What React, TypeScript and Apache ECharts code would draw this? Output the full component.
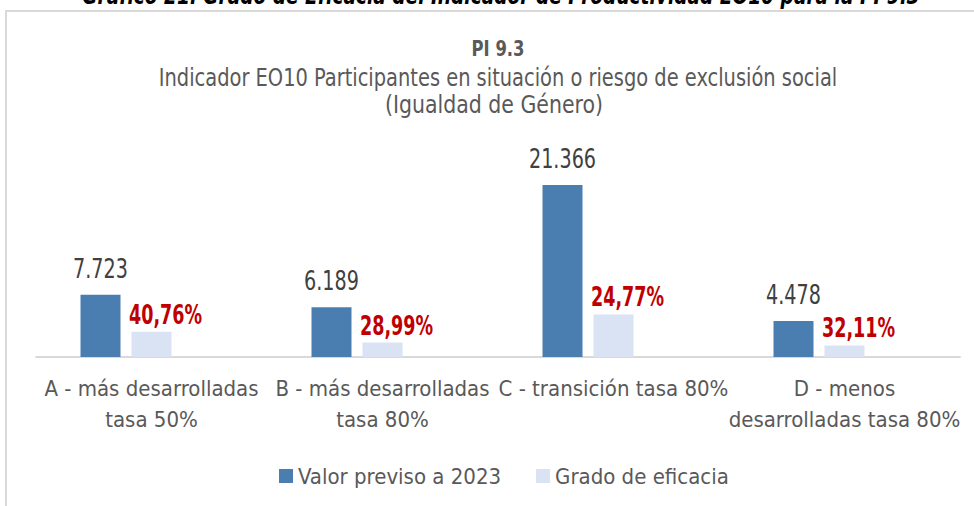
import React, { useEffect, useRef } from "react";
import * as echarts from "echarts";

const categories = [
  "A - más desarrolladas\ntasa 50%",
  "B - más desarrolladas\ntasa 80%",
  "C - transición tasa 80%",
  "D - menos\ndesarrolladas tasa 80%",
];
const valorPrevisto = [7723, 6189, 21366, 4478];
const valorEjecutado = [3148, 1794, 5292, 1438];
const gradoEficacia = ["40,76%", "28,99%", "24,77%", "32,11%"];
const hiddenSeries = [0, 0, 0, 0];

const FONT = "'DejaVu Sans Condensed', 'DejaVu Sans', sans-serif";

function fmtThousands(v: number): string {
  return String(v).replace(/\B(?=(\d{3})+(?!\d))/g, ".");
}

const BAR_W = 40;
const BAR_STEP = 51;

export default function App() {
  const ref = useRef<HTMLDivElement>(null);
  useEffect(() => {
    if (!ref.current) return;
    const chart = echarts.init(ref.current, null, { renderer: "svg" });
    const titleText = (text: string, x: number, y: number, size: number, sx: number, bold: boolean) => ({
      type: "text",
      x,
      y,
      scaleX: sx,
      silent: true,
      style: {
        text,
        fontFamily: FONT,
        fontSize: size,
        fontWeight: bold ? "bold" : "normal",
        fill: "#595959",
        align: "center",
        verticalAlign: "middle",
      },
    });
    chart.setOption({
      animation: false,
      backgroundColor: "#ffffff",
      textStyle: { fontFamily: FONT },
      graphic: [
        {
          type: "rect",
          shape: { x: 6, y: 11, width: 1100, height: 700 },
          style: { fill: "none", stroke: "#d9d9d9", lineWidth: 2 },
          silent: true,
        },
        {
          type: "text",
          x: 501,
          y: 7,
          scaleX: 0.86,
          silent: true,
          style: {
            text: "Gráfico 21. Grado de Eficacia del Indicador de Productividad EO10 para la PI 9.3",
            fontFamily: FONT,
            fontSize: 24,
            fontWeight: "bold",
            fontStyle: "italic",
            fill: "#000000",
            align: "center",
            verticalAlign: "bottom",
          },
        },
        titleText("PI 9.3", 498, 48, 22, 0.83, true),
        titleText("Indicador EO10 Participantes en situación o riesgo de exclusión social", 498, 78, 24, 0.9, false),
        titleText("(Igualdad de Género)", 494, 105, 24, 0.95, false),
      ],
      legend: {
        data: ["Valor previso a 2023", "Grado de eficacia"],
        top: 460,
        left: 274,
        itemWidth: 14,
        itemHeight: 14,
        itemGap: 35,
        icon: "rect",
        textStyle: { fontFamily: FONT, fontSize: 22, color: "#595959" },
      },
      grid: { left: 36, right: 14, top: 155.8, bottom: 149, containLabel: false },
      xAxis: {
        type: "category",
        data: categories,
        axisLine: { show: true, lineStyle: { color: "#d9d9d9", width: 2 } },
        axisTick: { show: false },
        axisLabel: {
          interval: 0,
          margin: 16,
          fontFamily: FONT,
          fontSize: 22,
          lineHeight: 31,
          color: "#595959",
          align: "center",
        },
      },
      yAxis: {
        type: "value",
        min: 0,
        max: 25000,
        show: false,
        splitLine: { show: false },
      },
      series: [
        {
          name: "Valor previso a 2023",
          type: "bar",
          data: valorPrevisto,
          barWidth: BAR_W,
          barGap: "27.5%",
          itemStyle: { color: "#4a7eb0" },
        },
        {
          name: "Grado de eficacia",
          type: "bar",
          data: valorEjecutado,
          barWidth: BAR_W,
          barGap: "27.5%",
          itemStyle: { color: "#dae3f3" },
        },
        {
          name: "oculto",
          type: "bar",
          data: hiddenSeries,
          barWidth: BAR_W,
          barGap: "27.5%",
          itemStyle: { color: "transparent" },
          silent: true,
        },
        {
          name: "etiquetaPrevisto",
          type: "custom",
          silent: true,
          clip: false,
          z: 10,
          data: valorPrevisto.map((v, i) => [i, v]),
          renderItem: (params: any, api: any) => {
            const p = api.coord([api.value(0), api.value(1)]);
            return {
              type: "text",
              x: p[0] - BAR_STEP,
              y: p[1] - 13,
              scaleX: 0.82,
              style: {
                text: fmtThousands(valorPrevisto[params.dataIndex]),
                fontFamily: FONT,
                fontSize: 26,
                fill: "#404040",
                align: "center",
                verticalAlign: "bottom",
              },
            };
          },
        },
        {
          name: "etiquetaEficacia",
          type: "custom",
          silent: true,
          clip: false,
          z: 10,
          data: valorEjecutado.map((v, i) => [i, v]),
          renderItem: (params: any, api: any) => {
            const p = api.coord([api.value(0), api.value(1)]);
            return {
              type: "text",
              x: p[0] + 14,
              y: p[1] - 4,
              scaleX: 0.75,
              style: {
                text: gradoEficacia[params.dataIndex],
                fontFamily: FONT,
                fontSize: 26,
                fontWeight: "bold",
                fill: "#c00000",
                align: "center",
                verticalAlign: "bottom",
              },
            };
          },
        },
      ],
    });
    return () => chart.dispose();
  }, []);
  return (
    <div
      ref={ref}
      style={{ position: "absolute", left: 0, top: 0, width: 974, height: 506 }}
    />
  );
}
